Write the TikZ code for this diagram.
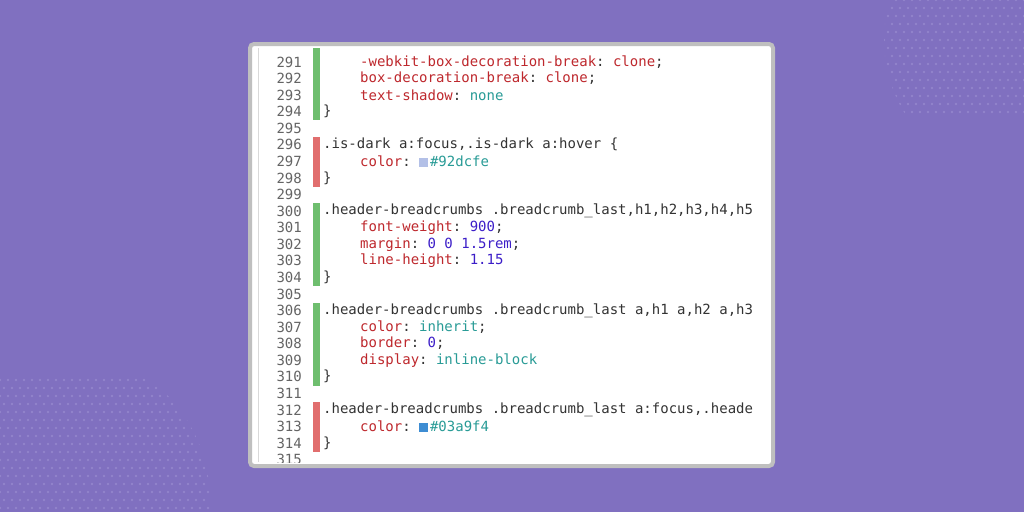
\documentclass[tikz,border=0pt]{standalone}
\usepackage{fontspec}
\setmonofont{DejaVu Sans Mono}
\usetikzlibrary{positioning}
\definecolor{bgpurple}{RGB}{128, 112, 192}
\definecolor{dotpurple}{RGB}{146, 132, 204}
\definecolor{propred}{RGB}{190, 40, 45}
\definecolor{valteal}{RGB}{40, 155, 150}
\definecolor{numblue}{RGB}{60, 30, 200}
\definecolor{linegray}{RGB}{100, 100, 100}
\definecolor{bargreen}{RGB}{110, 190, 110}
\definecolor{barred}{RGB}{225, 110, 110}
\newcommand{\cprop}[1]{\textcolor{propred}{#1}}
\newcommand{\cval}[1]{\textcolor{valteal}{#1}}
\newcommand{\cnum}[1]{\textcolor{numblue}{#1}}
\newcommand{\swatch}[1]{{\color{#1}\rule{8.5pt}{8.5pt}}\,}

\begin{document}
\begin{tikzpicture}[x=1pt, y=-1pt,
    lnum/.style={anchor=east, font=\ttfamily\fontsize{14}{14}\selectfont, text=linegray, inner sep=0pt},
    code/.style={anchor=west, font=\ttfamily\fontsize{14}{14}\selectfont, text=black!80, inner sep=0pt},
    gbar/.style={fill=bargreen, draw=none},
    rbar/.style={fill=barred, draw=none}
]
\useasboundingbox (0,0) rectangle (1024,512);
\fill[bgpurple] (0,0) rectangle (1024,512);

% decorative dots
\begin{scope}
    \clip (1024,40) circle (140);
    \foreach \i in {0,...,20} \foreach \j in {0,...,14}
        \fill[dotpurple] ({880+\i*8+mod(\j,2)*4}, {\j*8}) circle (1.3);
\end{scope}
\begin{scope}
    \clip (60,500) circle (150);
    \foreach \i in {0,...,28} \foreach \j in {0,...,16}
        \fill[dotpurple] ({\i*8+mod(\j,2)*4}, {380+\j*8}) circle (1.3);
\end{scope}

% panel
\draw[fill=white, draw=black!25, line width=4pt, rounded corners=4pt] (250,44) rectangle (773,466);
\fill[white] (256,48) rectangle (769,462);
\draw[black!15, line width=1pt] (258,48) -- (258,462);

% change bars
\fill[gbar] (313,48) rectangle (320,120);
\fill[rbar] (313,137) rectangle (320,187);
\fill[gbar] (313,203) rectangle (320,286);
\fill[gbar] (313,303) rectangle (320,386);
\fill[rbar] (313,402) rectangle (320,452);

% line numbers
\begin{scope}
    \clip (256,48) rectangle (769,462);
    \foreach \n [count=\k from 0] in {291,...,315}
        \node[lnum] (n\n) at (302, {62+16.57*\k}) {\n};
\end{scope}

% code
\node[code] (c291) at (360, 62.0) {\cprop{-webkit-box-decoration-break}: \cprop{clone};};
\node[code] (c292) at (360, 78.6) {\cprop{box-decoration-break}: \cprop{clone};};
\node[code] (c293) at (360, 95.1) {\cprop{text-shadow}: \cval{none}};
\node[code] (c294) at (323, 111.7) {\}};
\node[code] (c296) at (323, 144.8) {.is-dark a:focus,.is-dark a:hover \{};
\node[code] (c297) at (360, 161.4) {\cprop{color}: \swatch{cyan!40!blue!30}\cval{\#92dcfe}};
\node[code] (c298) at (323, 177.9) {\}};
\node[code] (c300) at (323, 211.1) {.header-breadcrumbs .breadcrumb\_last,h1,h2,h3,h4,h5};
\node[code] (c301) at (360, 227.6) {\cprop{font-weight}: \cnum{900};};
\node[code] (c302) at (360, 244.2) {\cprop{margin}: \cnum{0 0 1.5rem};};
\node[code] (c303) at (360, 260.8) {\cprop{line-height}: \cnum{1.15}};
\node[code] (c304) at (323, 277.3) {\}};
\node[code] (c306) at (323, 310.4) {.header-breadcrumbs .breadcrumb\_last a,h1 a,h2 a,h3};
\node[code] (c307) at (360, 327.0) {\cprop{color}: \cval{inherit};};
\node[code] (c308) at (360, 343.6) {\cprop{border}: \cnum{0};};
\node[code] (c309) at (360, 360.1) {\cprop{display}: \cval{inline-block}};
\node[code] (c310) at (323, 376.7) {\}};
\node[code] (c312) at (323, 409.8) {.header-breadcrumbs .breadcrumb\_last a:focus,.heade};
\node[code] (c313) at (360, 426.4) {\cprop{color}: \swatch{cyan!60!blue!80}\cval{\#03a9f4}};
\node[code] (c314) at (323, 442.9) {\}};
\end{tikzpicture}
\end{document}
